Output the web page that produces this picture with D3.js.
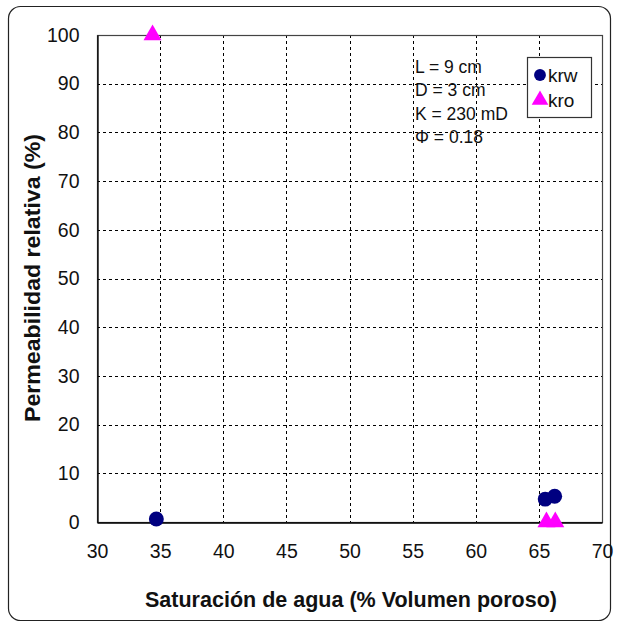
<!DOCTYPE html>
<html>
<head>
<meta charset="utf-8">
<script src="https://cdn.jsdelivr.net/npm/d3@7"></script>
<style>
  html, body { margin: 0; padding: 0; background: #fff; }
  svg { display: block; font-family: "Liberation Sans", Arial, sans-serif; }
</style>
</head>
<body>
<svg id="chart" width="618" height="627"></svg>
<script>
// Water saturation (% pore volume) vs relative permeability (%)
const krwSw = [34.7, 65.5, 66.25];
const krwVal = [0.6, 4.7, 5.3];
const kroSw = [34.4, 65.6, 66.3];
const kroVal = [100, 0, 0];

const xTicks = [30, 35, 40, 45, 50, 55, 60, 65, 70];
const yTicks = [0, 10, 20, 30, 40, 50, 60, 70, 80, 90, 100];

const seriesNames = ["krw", "kro"];
const seriesColors = ["#000080", "#ff00ff"];
const coreInfo = ["L = 9 cm", "D = 3 cm", "K = 230 mD", "\u03A6 = 0.18"];

const xTitle = "Saturación de agua (% Volumen poroso)";
const yTitle = "Permeabilidad relativa (%)";

const svg = d3.select("#chart");
const plot = { left: 97, right: 602, top: 35, bottom: 522 };

const x = d3.scaleLinear().domain([30, 70]).range([plot.left, plot.right]);
const y = d3.scaleLinear().domain([0, 100]).range([plot.bottom, plot.top]);

// outer chart frame
svg.append("rect")
  .attr("x", 8.5).attr("y", 6.5)
  .attr("width", 602).attr("height", 614)
  .attr("rx", 12).attr("ry", 12)
  .attr("fill", "#fff").attr("stroke", "#222").attr("stroke-width", 1.2);

// dashed grid
const grid = svg.append("g").attr("stroke", "#000").attr("stroke-width", 1)
  .attr("stroke-dasharray", "3,3");
grid.selectAll("line.vx").data(xTicks.slice(1, -1)).join("line")
  .attr("x1", d => Math.round(x(d)) + 0.5).attr("x2", d => Math.round(x(d)) + 0.5)
  .attr("y1", plot.top).attr("y2", plot.bottom);
grid.selectAll("line.hy").data(yTicks.slice(1, -1)).join("line")
  .attr("y1", d => Math.round(y(d)) + 0.5).attr("y2", d => Math.round(y(d)) + 0.5)
  .attr("x1", plot.left).attr("x2", plot.right);

// plot area border
svg.append("rect")
  .attr("x", plot.left + 0.5).attr("y", plot.top + 0.5)
  .attr("width", plot.right - plot.left).attr("height", plot.bottom - plot.top)
  .attr("fill", "none").attr("stroke", "#444").attr("stroke-width", 1.2);

// axes
const xAxis = svg.append("g").attr("transform", `translate(0,${plot.bottom + 0.5})`)
  .call(d3.axisBottom(x).tickValues(xTicks).tickSize(0).tickPadding(22));
const yAxis = svg.append("g").attr("transform", `translate(${plot.left + 0.5},0)`)
  .call(d3.axisLeft(y).tickValues(yTicks).tickSize(0).tickPadding(18));
[xAxis, yAxis].forEach(a => {
  a.select(".domain").attr("stroke", "#000").attr("stroke-width", 1.3);
  a.selectAll("text").attr("font-size", 19.5).attr("fill", "#111")
    .attr("font-family", "'Liberation Sans', Arial, sans-serif");
});

// axis titles
svg.append("text")
  .attr("x", 351).attr("y", 607)
  .attr("text-anchor", "middle").attr("font-size", 22).attr("font-weight", "bold")
  .attr("textLength", 412).attr("lengthAdjust", "spacingAndGlyphs")
  .attr("fill", "#111").text(xTitle);
svg.append("text")
  .attr("transform", "translate(40,278) rotate(-90)")
  .attr("text-anchor", "middle").attr("font-size", 22).attr("font-weight", "bold")
  .attr("textLength", 288).attr("lengthAdjust", "spacingAndGlyphs")
  .attr("fill", "#111").text(yTitle);

// data markers
const circleSym = d3.symbol().type(d3.symbolCircle).size(175);
const triSym = d3.symbol().type(d3.symbolTriangle).size(140);

svg.append("g").selectAll("path")
  .data(krwSw.map((s, i) => [s, krwVal[i]])).join("path")
  .attr("transform", d => `translate(${x(d[0])},${y(d[1])})`)
  .attr("d", circleSym).attr("fill", seriesColors[0]);

svg.append("g").selectAll("path")
  .data(kroSw.map((s, i) => [s, kroVal[i]])).join("path")
  .attr("transform", d => `translate(${x(d[0])},${y(d[1])})`)
  .attr("d", triSym).attr("fill", seriesColors[1]);

// core properties text
svg.append("g").selectAll("text").data(coreInfo).join("text")
  .attr("x", 415).attr("y", (d, i) => 73 + i * 23.3)
  .attr("font-size", 17.5).attr("fill", "#111").text(d => d);

// legend
const lg = svg.append("g").attr("transform", "translate(527,57)");
lg.append("rect").attr("x", 0.5).attr("y", 0.5).attr("width", 64).attr("height", 60)
  .attr("fill", "#fff").attr("stroke", "#333").attr("stroke-width", 1.2);
const items = lg.selectAll("g.item").data(seriesNames).join("g")
  .attr("transform", (d, i) => `translate(13,${18 + i * 25})`);
items.append("path")
  .attr("d", (d, i) => i === 0 ? d3.symbol().type(d3.symbolCircle).size(110)() : d3.symbol().type(d3.symbolTriangle).size(120)())
  .attr("fill", (d, i) => seriesColors[i]);
items.append("text").attr("x", 8).attr("y", 7)
  .attr("font-size", 19).attr("fill", "#111").text(d => d);
</script>
</body>
</html>
